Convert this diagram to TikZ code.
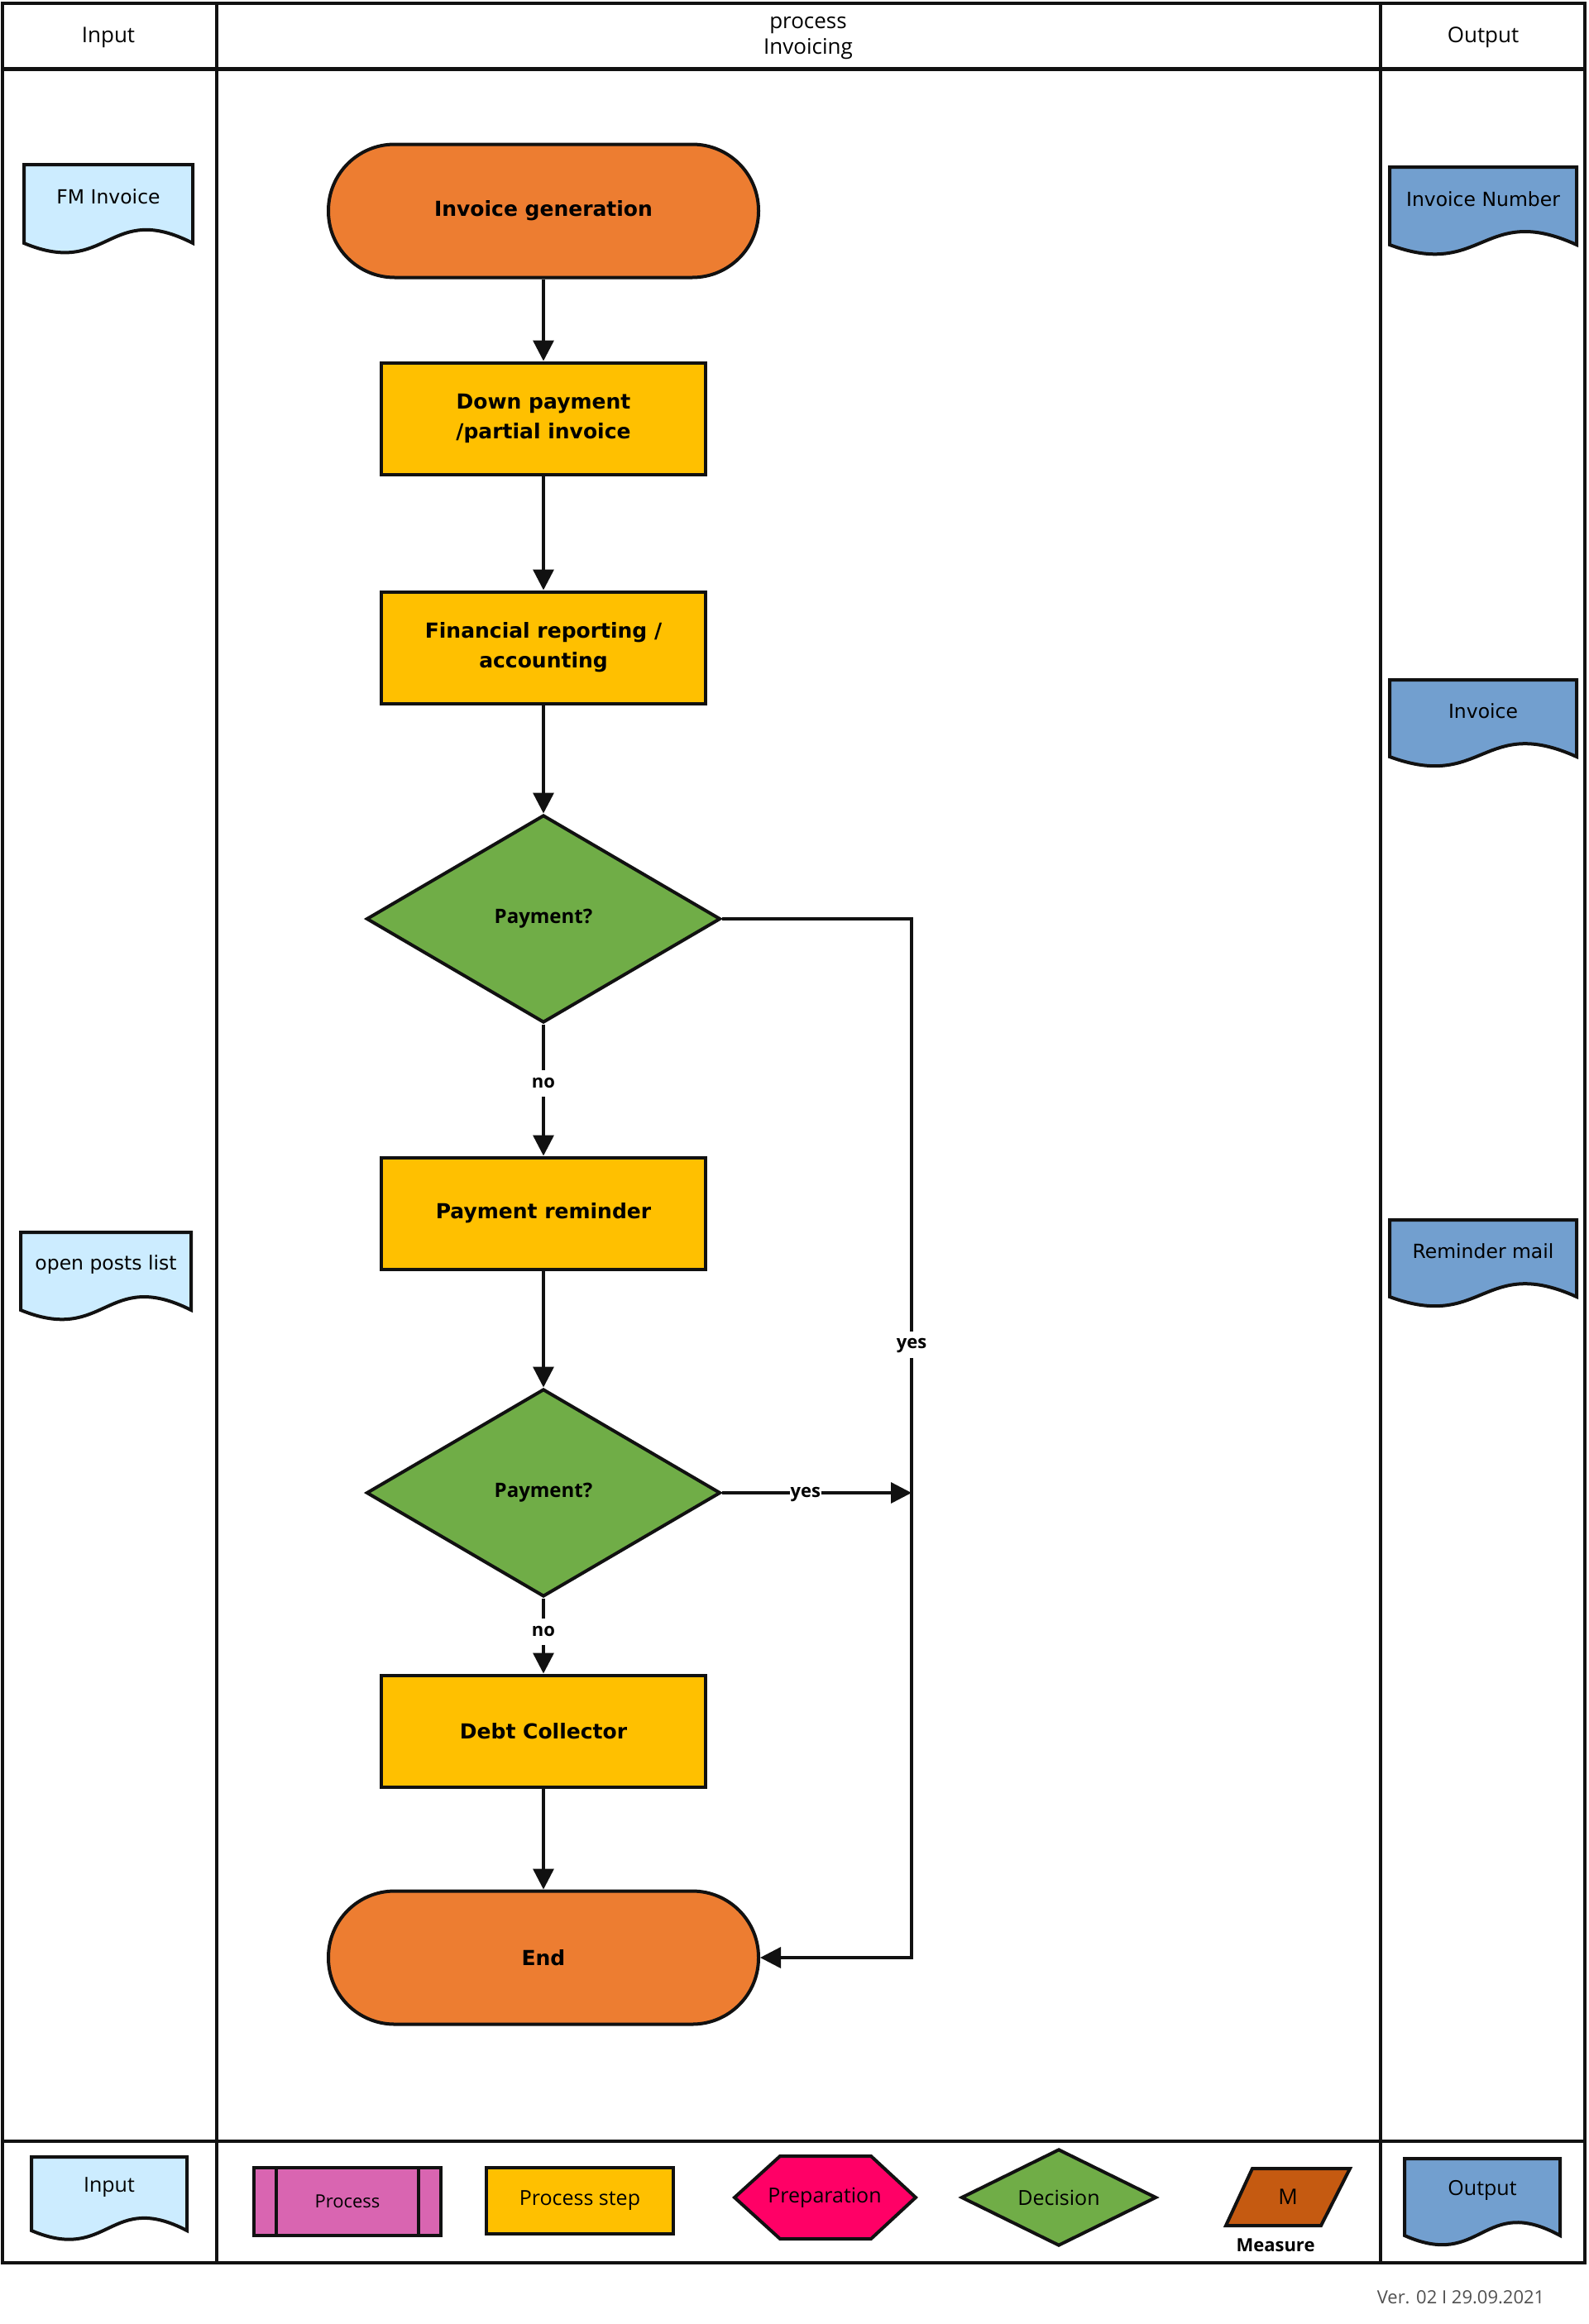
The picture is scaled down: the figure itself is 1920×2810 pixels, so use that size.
\documentclass[tikz,border=0pt]{standalone}
\usepackage{fontspec}
\setmainfont{DejaVu Sans}
\newfontfamily\osans{Open Sans}
\usetikzlibrary{shapes.geometric,arrows.meta}
\definecolor{cOrange}{HTML}{ED7D31}
\definecolor{cYellow}{HTML}{FFC000}
\definecolor{cGreen}{HTML}{70AD47}
\definecolor{cIn}{HTML}{CCECFF}
\definecolor{cOut}{HTML}{729FCF}
\definecolor{cPink}{HTML}{D965B1}
\definecolor{cPrep}{HTML}{FF0066}
\definecolor{cMeas}{HTML}{C55A11}
\definecolor{cLine}{HTML}{111111}
\definecolor{cVer}{HTML}{505050}
\newcommand\boxfont{\fontsize{25}{36}\selectfont\bfseries}
\newcommand\docfont{\fontsize{23.5}{28}\selectfont}
\newcommand\hdrfont{\osans\fontsize{26}{31}\selectfont}
\newcommand\legfont{\osans\fontsize{25}{29}\selectfont}
\newcommand\lblfont{\osans\bfseries\fontsize{22}{26}\selectfont}
\newcommand\decfont{\osans\bfseries\fontsize{24}{28}\selectfont}
\newcommand\docshape[7]{%
  \pgfmathsetmacro\dxm{(#2+#4)/2}%
  \pgfmathsetmacro\dyu{#5-0.55*(#5-#3)}%
  \pgfmathsetmacro\dyd{#5+0.45*(#5-#3)}%
  \pgfmathsetmacro\dyt{#3+0.41*(#5-#3)}%
  \draw[shapeline,fill=#6] (#2,#3) -- (#4,#3) -- (#4,#5) .. controls (\dxm,\dyu) and (\dxm,\dyd) .. (#2,#5) -- cycle;
  \node[doctext] (#1) at (\dxm,\dyt) {#7};}
\begin{document}
\begin{tikzpicture}[x=1pt,y=-1pt,
  frame/.style={draw=cLine,line width=4.5pt},
  shapeline/.style={draw=cLine,line width=4pt,line join=miter},
  term/.style={shapeline,fill=cOrange,rectangle,rounded corners=80pt,minimum width=520pt,minimum height=161pt,font=\boxfont},
  stepbox/.style={shapeline,fill=cYellow,rectangle,minimum width=392pt,minimum height=135pt,align=center,font=\boxfont},
  decision/.style={shapeline,fill=cGreen,diamond,aspect=1.7,inner sep=0pt,minimum width=428pt,minimum height=251pt,font=\decfont},
  doctext/.style={inner sep=0pt,align=center,font=\docfont},
  arr/.style={draw=cLine,line width=3.5pt,-{Triangle[length=25pt,width=25pt]}},
  lbl/.style={fill=white,inner xsep=1pt,inner ysep=6pt,text height=15pt,text depth=5pt,font=\lblfont},
]
\useasboundingbox (0,0) rectangle (1920,2810);
% frame
\draw[frame] (3,4) rectangle (1916,2736);
\draw[frame,line width=5pt] (3,84) -- (1916,84);
\draw[frame] (3,2589) -- (1916,2589);
\draw[frame] (262,4) -- (262,2736);
\draw[frame] (1669,4) -- (1669,2736);
% header
\node[font=\hdrfont] (hin) at (131,45) {Input};
\node[font=\hdrfont,align=center] (hproc) at (977,46) {process\\Invoicing};
\node[font=\hdrfont] (hout) at (1793,45) {Output};
% flow
\node[term] (start) at (657,255) {Invoice generation};
\node[stepbox] (down) at (657,506) {Down payment\\/partial invoice};
\node[stepbox] (fin) at (657,783) {Financial reporting /\\accounting};
\node[decision] (d1) at (657,1111) {Payment?};
\node[stepbox] (rem) at (657,1467) {Payment reminder};
\node[decision] (d2) at (657,1805) {Payment?};
\node[stepbox] (debt) at (657,2093) {Debt Collector};
\node[term] (end) at (657,2367) {End};
\coordinate (j1) at (1102,1111);
\coordinate (j2) at (1102,2367);
\coordinate (j3) at (1102,1805);
\draw[arr] (start) -- (down);
\draw[arr] (down) -- (fin);
\draw[arr] (fin) -- (d1);
\draw[arr] (d1) -- node[lbl,pos=0.45] {no} (rem);
\draw[arr] (rem) -- (d2);
\draw[arr] (d2) -- node[lbl,pos=0.45] {no} (debt);
\draw[arr] (debt) -- (end);
\draw[arr] (d1.east) -- (j1) -- node[lbl,pos=0.41] {yes} (j2) -- (end.east);
\draw[arr] (d2.east) -- node[lbl,pos=0.44,inner ysep=0pt] {yes} (j3);
% inputs / outputs
\docshape{fmin}{29}{199}{233}{294}{cIn}{FM Invoice}
\docshape{opl}{25}{1490}{231}{1584}{cIn}{open posts list}
\docshape{invnum}{1680}{202}{1906}{296}{cOut}{Invoice Number}
\docshape{inv}{1680}{822}{1906}{915}{cOut}{Invoice}
\docshape{remmail}{1680}{1475}{1906}{1568}{cOut}{Reminder mail}
% legend
\docshape{lin}{38}{2608}{226}{2697}{cIn}{\legfont Input}
\node[shapeline,fill=cPink,rectangle,minimum width=226pt,minimum height=82pt,font=\osans\fontsize{22}{26}\selectfont] (lproc) at (420,2662) {Process};
\draw[shapeline] ([xshift=29pt]lproc.north west) -- ([xshift=29pt]lproc.south west);
\draw[shapeline] ([xshift=-29pt]lproc.north east) -- ([xshift=-29pt]lproc.south east);
\node[shapeline,fill=cYellow,rectangle,minimum width=226pt,minimum height=80pt,font=\legfont] (lstep) at (701,2661) {Process step};
\draw[shapeline,fill=cPrep] (888,2657) -- (943,2607) -- (1053,2607) -- (1107,2657) -- (1053,2707) -- (943,2707) -- cycle;
\node[font=\legfont] (lprep) at (997,2657) {Preparation};
\node[decision,minimum width=236pt,minimum height=117pt,font=\legfont] (ldec) at (1280,2657) {Decision};
\draw[shapeline,fill=cMeas] (1514,2622) -- (1632,2622) -- (1597,2691) -- (1482,2691) -- cycle;
\node[font=\osans\fontsize{26}{30}\selectfont] (lm) at (1557,2656) {M};
\node[font=\osans\bfseries\fontsize{22}{26}\selectfont] (lmeas) at (1542,2715) {Measure};
\docshape{lout}{1698}{2610}{1886}{2703}{cOut}{\legfont Output}
% version
\node[font=\osans\fontsize{22}{26}\selectfont,text=cVer] (ver) at (1766,2778) {Ver. 02 I 29.09.2021};
\end{tikzpicture}
\end{document}
